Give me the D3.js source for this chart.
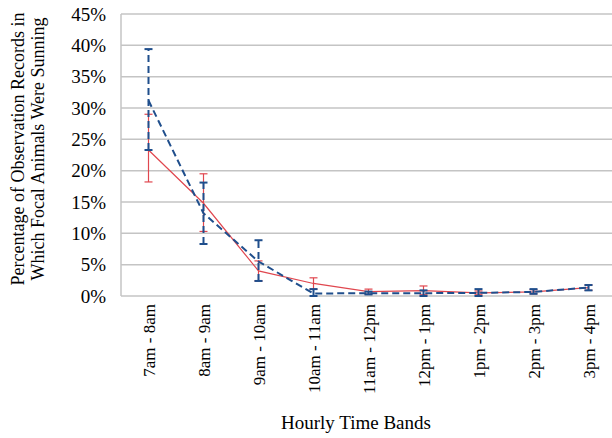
<!DOCTYPE html>
<html>
<head>
<meta charset="utf-8">
<script src="https://cdn.jsdelivr.net/npm/d3@7"></script>
<style>
  body { margin: 0; background: #fff; }
  text { font-family: "Liberation Serif", "Times New Roman", serif; fill: #000; }
</style>
</head>
<body>
<div id="chart"></div>
<script>
const width = 612;
const height = 438;

// hourly bands
const bands = ["7am - 8am", "8am - 9am", "9am - 10am", "10am - 11am", "11am - 12pm",
               "12pm - 1pm", "1pm - 2pm", "2pm - 3pm", "3pm - 4pm"];

// solid red series (value, lower, upper), in percent
const redVals = [23.3, 14.8, 4.0, 2.0, 0.7, 0.85, 0.5, 0.65, 1.35];
const redLow  = [18.2, 10.3, 2.4, 1.1, 0.3, 0.2, 0.2, 0.35, 0.9];
const redHigh = [29.0, 19.5, 5.6, 2.9, 1.1, 1.6, 0.8, 1.0, 1.75];

// dashed blue series
const blueVals = [31.2, 13.2, 5.5, 0.4, 0.45, 0.45, 0.5, 0.65, 1.35];
const blueLow  = [23.3, 8.3, 2.4, 0.0, 0.25, 0.0, 0.0, 0.35, 0.9];
const blueHigh = [39.4, 18.1, 8.9, 1.1, 0.7, 0.9, 1.1, 1.1, 1.75];

const yTicks = [0, 5, 10, 15, 20, 25, 30, 35, 40, 45];

const svg = d3.select("#chart")
  .append("svg")
  .attr("width", width)
  .attr("height", height);

const x = d3.scaleBand().domain(bands).range([121, 616]);
const y = d3.scaleLinear().domain([0, 45]).range([296, 14]);
const cx = d => x(d) + x.bandwidth() / 2;

// gridlines
svg.append("g")
  .selectAll("line")
  .data(yTicks)
  .enter()
  .append("line")
  .attr("x1", 121).attr("x2", 616)
  .attr("y1", d => y(d)).attr("y2", d => y(d))
  .attr("stroke", "#c4c4c4")
  .attr("stroke-width", 1.5);

// left axis line
svg.append("line")
  .attr("x1", 121).attr("x2", 121)
  .attr("y1", y(45)).attr("y2", y(0))
  .attr("stroke", "#c4c4c4")
  .attr("stroke-width", 1.5);

// y tick labels
svg.append("g")
  .selectAll("text")
  .data(yTicks)
  .enter()
  .append("text")
  .attr("x", 106)
  .attr("y", d => y(d))
  .attr("dy", "0.35em")
  .attr("text-anchor", "end")
  .style("font-size", "19px")
  .text(d => d + "%");

// x tick labels (rotated)
svg.append("g")
  .selectAll("text")
  .data(bands)
  .enter()
  .append("text")
  .attr("transform", d => `translate(${cx(d) + 6},304) rotate(-90)`)
  .attr("text-anchor", "end")
  .style("font-size", "17px")
  .text(d => d);

// axis titles
svg.append("text")
  .attr("x", 356).attr("y", 429)
  .attr("text-anchor", "middle")
  .style("font-size", "19px")
  .text("Hourly Time Bands");

const yTitle = svg.append("text")
  .attr("transform", "translate(0,149) rotate(-90)")
  .attr("text-anchor", "middle")
  .style("font-size", "18px");
yTitle.append("tspan").attr("x", 0).attr("y", 24).text("Percentage of Observation Records in");
yTitle.append("tspan").attr("x", 0).attr("y", 44).text("Which Focal Animals Were Sunning");

const line = d3.line().x(d => cx(d.band)).y(d => y(d.v));

function series(vals, low, high, color, w, dash) {
  const rows = bands.map((b, i) => ({band: b, v: vals[i], lo: low[i], hi: high[i]}));
  const g = svg.append("g");
  g.append("path")
    .datum(rows)
    .attr("d", line)
    .attr("fill", "none")
    .attr("stroke", color)
    .attr("stroke-width", w)
    .attr("stroke-dasharray", dash);
  const eb = g.selectAll(".eb").data(rows).enter().append("g");
  eb.append("line")
    .attr("x1", d => cx(d.band)).attr("x2", d => cx(d.band))
    .attr("y1", d => y(d.lo)).attr("y2", d => y(d.hi))
    .attr("stroke", color).attr("stroke-width", w)
    .attr("stroke-dasharray", dash);
  [d => d.lo, d => d.hi].forEach(f => {
    eb.append("line")
      .attr("x1", d => cx(d.band) - 4).attr("x2", d => cx(d.band) + 4)
      .attr("y1", d => y(f(d))).attr("y2", d => y(f(d)))
      .attr("stroke", color).attr("stroke-width", w);
  });
}

series(redVals, redLow, redHigh, "#e0474f", 1.2, null);
series(blueVals, blueLow, blueHigh, "#1f4e8c", 2, "7,4");
</script>
</body>
</html>
